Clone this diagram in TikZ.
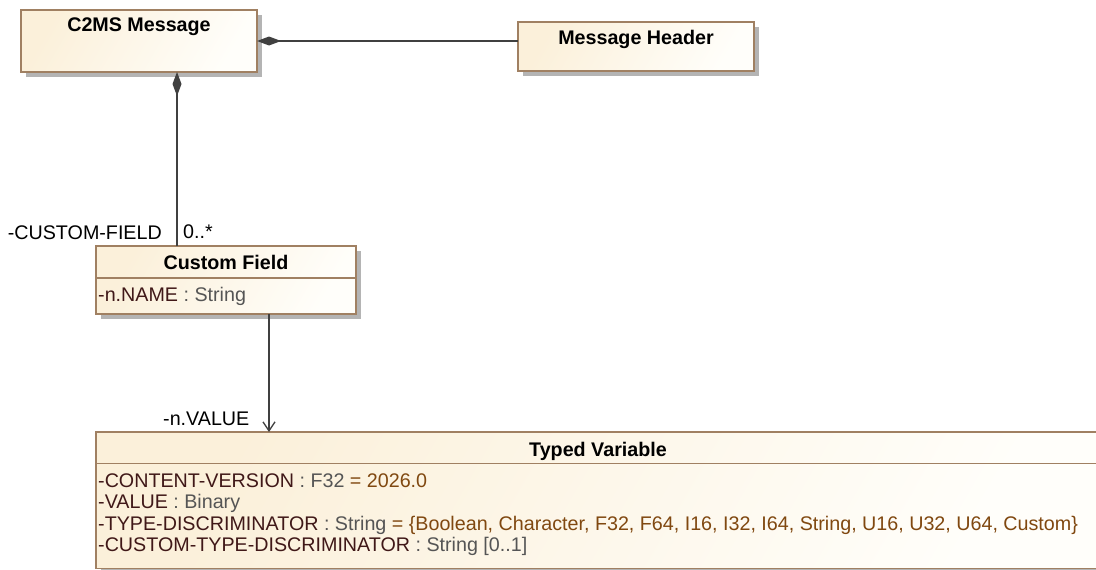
\documentclass[tikz,border=0pt]{standalone}
\usepackage{fontspec}
\setmainfont{Liberation Sans}
\usetikzlibrary{arrows.meta,shadows,calc}
\definecolor{bordc}{RGB}{160,128,98}
\definecolor{fillA}{RGB}{251,240,218}
\definecolor{fillB}{RGB}{255,254,250}
\definecolor{namec}{RGB}{64,24,24}
\definecolor{typec}{RGB}{85,85,85}
\definecolor{valc}{RGB}{128,72,16}
\definecolor{shadc}{RGB}{180,180,180}
\definecolor{linec}{RGB}{64,64,64}
\begin{document}
\begin{tikzpicture}[x=1pt,y=-1pt,
  umlbox/.style={draw=bordc, line width=1.3pt, left color=fillA, right color=fillB, shading angle=60,
     general shadow={fill=shadc, shadow xshift=5pt, shadow yshift=-5pt},
     inner sep=0pt, outer sep=0pt},
  ttl/.style={font=\fontsize{19.7}{22}\selectfont\bfseries, inner sep=0pt, anchor=base},
  attr/.style={font=\fontsize{19.7}{22}\selectfont, inner sep=0pt, anchor=base west},
  lbl/.style={font=\fontsize{19.7}{22}\selectfont, inner sep=0pt},
  conn/.style={draw=linec, line width=1.3pt},
  comp/.style={conn, {Diamond[length=24pt,width=9pt,fill=linec]}-},
  nav/.style={conn, -{Straight Barb[length=9pt,width=12pt,line width=1.3pt]}}
]
\useasboundingbox (0,0) rectangle (1096,570);
% boxes
\node[umlbox, minimum width=236pt, minimum height=62pt] (c2ms) at (139,41) {};
\node[umlbox, minimum width=236pt, minimum height=49pt] (mh) at (636,46.5) {};
\node[umlbox, minimum width=260pt, minimum height=68pt] (cf) at (226,280) {};
\node[umlbox, minimum width=1004pt, minimum height=136.5pt] (tv) at (598,500.25) {};
% compartment lines
\draw[bordc, line width=1.3pt] (cf.west |- 0,278) coordinate (cfl) -- (cf.east |- 0,278) coordinate (cfr);
\draw[bordc, line width=1.3pt] (tv.west |- 0,463.5) coordinate (tvl) -- (tv.east |- 0,463.5) coordinate (tvr);
% titles
\node[ttl] (t1) at (139,31) {C2MS Message};
\node[ttl] (t2) at (636,45) {Message Header};
\node[ttl] (t3) at (226,269) {Custom Field};
\node[ttl] (t4) at (598,456) {Typed Variable};
% attributes
\node[attr] (a0) at (98,301) {\textcolor{namec}{-n.NAME} \textcolor{typec}{: String}};
\node[attr] (a1) at (98,487) {\textcolor{namec}{-CONTENT-VERSION} \textcolor{typec}{: F32} \textcolor{valc}{= 2026.0}};
\node[attr] (a2) at (98,508.5) {\textcolor{namec}{-VALUE} \textcolor{typec}{: Binary}};
\node[attr] (a3) at (98,530) {\textcolor{namec}{-TYPE-DISCRIMINATOR} \textcolor{typec}{: String} \textcolor{valc}{= \{Boolean, Character, F32, F64, I16, I32, I64, String, U16, U32, U64, Custom\}}};
\node[attr] (a4) at (98,551.5) {\textcolor{namec}{-CUSTOM-TYPE-DISCRIMINATOR} \textcolor{typec}{: String [0..1]}};
% connectors
\draw[comp] (c2ms.east) -- (c2ms.east -| mh.west);
\draw[comp] ([xshift=38pt]c2ms.south) -- ([xshift=38pt]c2ms.south |- cf.north);
\draw[nav] ([xshift=43pt]cf.south) -- ([xshift=43pt]cf.south |- tv.north);
% labels
\node[lbl, anchor=base east] (l1) at (162,239) {-CUSTOM-FIELD};
\node[lbl, anchor=base west] (l2) at (183,238) {0..*};
\node[lbl, anchor=base west] (l3) at (163,425) {-n.VALUE};
\end{tikzpicture}
\end{document}
